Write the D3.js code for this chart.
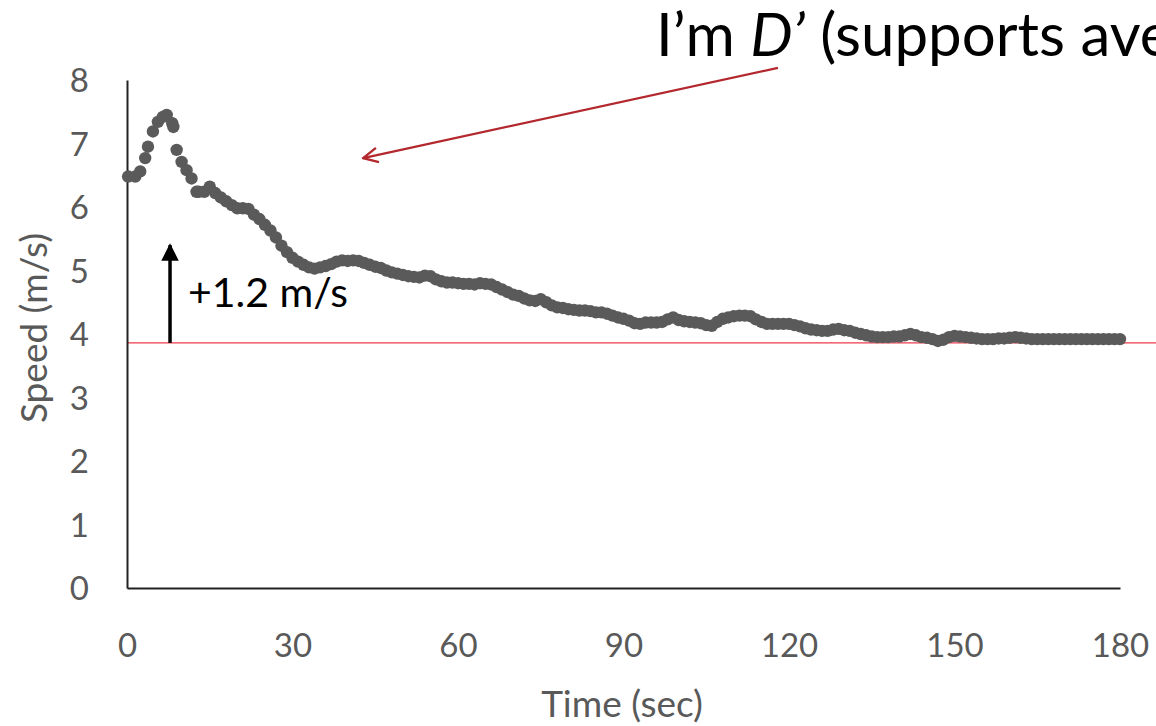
<!DOCTYPE html>
<html>
<head>
<meta charset="utf-8">
<script src="https://cdn.jsdelivr.net/npm/d3@7"></script>
<style>
  html, body { margin: 0; padding: 0; background: #ffffff; overflow: hidden; }
  svg { display: block; }
  text { font-family: Lato, "Open Sans", sans-serif; }
</style>
</head>
<body>
<svg id="chart" width="1156" height="726"></svg>
<script>
// ---- data ----
const earlyTimes  = [0.2, 1.5, 2.4, 3.3, 3.8, 4.7, 5.6, 6.5, 7.2, 8.2, 8.4, 9.0, 9.9, 10.8, 11.7, 12.6];
const earlySpeeds = [6.48, 6.48, 6.56, 6.77, 6.95, 7.19, 7.34, 7.42, 7.45, 7.32, 7.26, 6.90, 6.71, 6.58, 6.45, 6.24];

const laterStart = 13; // seconds, 1 s sampling afterwards
const laterSpeeds = [
  6.24, 6.24, 6.32, 6.22, 6.15, 6.09, 6.03, 5.98, 5.98, 5.97,   // 13-22
  5.88, 5.81, 5.72, 5.63, 5.52, 5.39, 5.29, 5.20, 5.14, 5.09,   // 23-32
  5.05, 5.03, 5.05, 5.07, 5.10, 5.14, 5.16, 5.15, 5.16, 5.15,   // 33-42
  5.12, 5.09, 5.06, 5.04, 5.00, 4.97, 4.95, 4.93, 4.91, 4.90,   // 43-52
  4.89, 4.92, 4.91, 4.86, 4.83, 4.81, 4.81, 4.80, 4.79, 4.79,   // 53-62
  4.78, 4.80, 4.79, 4.78, 4.74, 4.70, 4.66, 4.62, 4.60, 4.56,   // 63-72
  4.53, 4.52, 4.55, 4.50, 4.45, 4.42, 4.41, 4.39, 4.38, 4.37,   // 73-82
  4.37, 4.36, 4.34, 4.34, 4.32, 4.29, 4.26, 4.24, 4.21, 4.17,   // 83-92
  4.16, 4.18, 4.18, 4.18, 4.19, 4.23, 4.26, 4.22, 4.20, 4.19,   // 93-102
  4.18, 4.17, 4.14, 4.13, 4.19, 4.24, 4.26, 4.28, 4.29, 4.29,   // 103-112
  4.28, 4.23, 4.19, 4.16, 4.16, 4.16, 4.16, 4.16, 4.14, 4.12,   // 113-122
  4.09, 4.07, 4.06, 4.05, 4.05, 4.07, 4.08, 4.06, 4.05, 4.02,   // 123-132
  4.00, 3.98, 3.96, 3.95, 3.95, 3.95, 3.96, 3.96, 3.98, 4.00,   // 133-142
  3.98, 3.95, 3.94, 3.92, 3.89, 3.91, 3.95, 3.97, 3.96, 3.95,   // 143-152
  3.94, 3.93, 3.92, 3.92, 3.92, 3.93, 3.93, 3.94, 3.95, 3.94,   // 153-162
  3.93, 3.92, 3.92, 3.92, 3.92, 3.92, 3.92, 3.92, 3.92, 3.92,   // 163-172
  3.92, 3.92, 3.92, 3.92, 3.92, 3.92, 3.92, 3.92                // 173-180
];

const xTicks = [0, 30, 60, 90, 120, 150, 180];
const yTicks = [0, 1, 2, 3, 4, 5, 6, 7, 8];
const baselineSpeed = 3.86;      // red reference line
const arrowFrom = 3.86, arrowTo = 5.4, arrowTime = 7.8;
const arrowLabel = "+1.2 m/s";
const xTitle = "Time (sec)";
const yTitle = "Speed (m/s)";

// ---- build points ----
const points = earlyTimes.map((t, i) => ({ t, v: earlySpeeds[i] }))
  .concat(laterSpeeds.map((v, i) => ({ t: laterStart + i, v })));

const svg = d3.select("#chart");
const x = d3.scaleLinear().domain([0, 180]).range([127, 1120]);
const y = d3.scaleLinear().domain([0, 8]).range([588, 80]);

// red reference line (extends to the right edge)
svg.append("line")
  .attr("x1", x(0)).attr("x2", 1156)
  .attr("y1", y(baselineSpeed)).attr("y2", y(baselineSpeed))
  .attr("stroke", "#ee3a4c").attr("stroke-width", 1.3);

// axes
const xAxis = svg.append("g").attr("transform", `translate(0,${y(0)})`)
  .call(d3.axisBottom(x).tickValues(xTicks).tickSize(0).tickPadding(0).tickFormat(d3.format("d")));
xAxis.select(".domain").attr("stroke", "#222").attr("stroke-width", 2);
xAxis.selectAll("text").attr("dy", null).attr("y", 69)
  .attr("fill", "#595959").style("font-size", "33px").style("font-family", "Lato, sans-serif");

const yAxis = svg.append("g").attr("transform", `translate(${x(0)},0)`)
  .call(d3.axisLeft(y).tickValues(yTicks).tickSize(0).tickPadding(0).tickFormat(d3.format("d")));
yAxis.select(".domain").attr("stroke", "#222").attr("stroke-width", 2);
yAxis.selectAll("text").attr("x", -38).attr("dy", "0.36em")
  .attr("fill", "#595959").style("font-size", "33px").style("font-family", "Lato, sans-serif");

// axis titles
svg.append("text").attr("x", 622).attr("y", 717).attr("text-anchor", "middle")
  .attr("fill", "#595959").style("font-size", "37px").text(xTitle);
svg.append("text").attr("transform", `translate(47,328) rotate(-90)`).attr("text-anchor", "middle")
  .attr("fill", "#595959").style("font-size", "37px").text(yTitle);

// data points
svg.append("g").selectAll("circle").data(points).join("circle")
  .attr("cx", d => x(d.t)).attr("cy", d => y(d.v)).attr("r", 6.2)
  .attr("fill", "#5a5a5a");

// black arrow annotation
const defs = svg.append("defs");
defs.append("marker").attr("id", "blackHead").attr("viewBox", "0 0 10 10")
  .attr("refX", 9).attr("refY", 5).attr("markerWidth", 5).attr("markerHeight", 6)
  .attr("markerUnits", "strokeWidth").attr("orient", "auto")
  .append("path").attr("d", "M0,0 L10,5 L0,10 Z").attr("fill", "#000");
svg.append("line")
  .attr("x1", x(arrowTime)).attr("x2", x(arrowTime))
  .attr("y1", y(arrowFrom)).attr("y2", y(arrowTo))
  .attr("stroke", "#000").attr("stroke-width", 3.5).attr("marker-end", "url(#blackHead)");
svg.append("text").attr("x", 188).attr("y", 307)
  .attr("fill", "#000").style("font-size", "41px").text(arrowLabel);

// title annotation (runs off the right edge, as in the reference)
const title = svg.append("text").attr("x", 656).attr("y", 56)
  .attr("fill", "#000").style("font-size", "60px");
title.append("tspan").text("I’m ");
title.append("tspan").style("font-style", "italic").text("D’");
title.append("tspan").text(" (supports ave");

// red pointer arrow
defs.append("marker").attr("id", "redHead").attr("viewBox", "0 0 12 12")
  .attr("refX", 11).attr("refY", 6).attr("markerWidth", 8).attr("markerHeight", 8)
  .attr("markerUnits", "strokeWidth").attr("orient", "auto")
  .append("path").attr("d", "M1,1 L11,6 L1,11").attr("fill", "none")
  .attr("stroke", "#b3282e").attr("stroke-width", 1.6);
svg.append("line")
  .attr("x1", x(118)).attr("y1", y(8.19))
  .attr("x2", x(42.8)).attr("y2", y(6.77))
  .attr("stroke", "#b3282e").attr("stroke-width", 2.2).attr("marker-end", "url(#redHead)");
</script>
</body>
</html>
